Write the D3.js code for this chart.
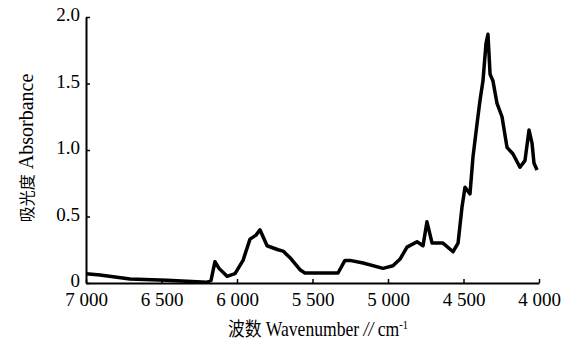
<!DOCTYPE html>
<html>
<head>
<meta charset="utf-8">
<script src="https://cdn.jsdelivr.net/npm/d3@7/dist/d3.min.js"></script>
<style>
  html, body { margin: 0; padding: 0; background: #fff; }
</style>
</head>
<body>
<svg id="chart" width="575" height="342"></svg>
<script>
// Spectrum: wavenumber (cm-1) and absorbance
const wavenumber = [7000, 6907, 6709, 6464, 6199, 6172, 6146, 6119, 6066, 6013, 5960, 5914, 5874, 5848, 5828, 5801, 5728, 5695, 5649, 5583, 5550, 5331, 5285, 5252, 5165, 5033, 4967, 4920, 4874, 4808, 4768, 4742, 4708, 4636, 4569, 4536, 4510, 4490, 4457, 4437, 4410, 4391, 4371, 4351, 4338, 4324, 4305, 4278, 4245, 4212, 4172, 4126, 4093, 4066, 4046, 4033, 4013];
const absorbance = [0.07, 0.06, 0.03, 0.02, 0.005, 0.02, 0.16, 0.11, 0.05, 0.07, 0.17, 0.33, 0.36, 0.40, 0.35, 0.28, 0.25, 0.24, 0.19, 0.10, 0.075, 0.075, 0.17, 0.17, 0.15, 0.11, 0.13, 0.18, 0.27, 0.31, 0.28, 0.46, 0.30, 0.30, 0.235, 0.30, 0.57, 0.72, 0.67, 0.95, 1.2, 1.37, 1.52, 1.8, 1.87, 1.57, 1.52, 1.35, 1.25, 1.02, 0.97, 0.87, 0.92, 1.15, 1.05, 0.9, 0.85];
const xTicks = [7000, 6500, 6000, 5500, 5000, 4500, 4000];
const xTickLabels = ["7 000", "6 500", "6 000", "5 500", "5 000", "4 500", "4 000"];
const yTicks = [0, 0.5, 1.0, 1.5, 2.0];
const yTickLabels = ["0", "0.5", "1.0", "1.5", "2.0"];

const SERIF = '"Liberation Serif", "Times New Roman", "DejaVu Serif", serif';
const CJK = '"Noto Sans CJK SC", "Noto Sans CJK JP", sans-serif';

const svg = d3.select("#chart");
const x = d3.scaleLinear().domain([7000, 4000]).range([86, 539]);
const y = d3.scaleLinear().domain([0, 2]).range([283, 17]);

// x axis
const xAxis = d3.axisBottom(x).tickValues(xTicks)
  .tickFormat((d, i) => xTickLabels[i]).tickSizeInner(-4).tickSizeOuter(0).tickPadding(10);
const gx = svg.append("g").attr("transform", `translate(0,${y(0)})`).call(xAxis);
gx.select(".domain").attr("stroke", "#000").attr("stroke-width", 2);
gx.selectAll(".tick line").attr("stroke", "#000").attr("stroke-width", 1.5);
gx.selectAll(".tick text").attr("font-family", SERIF).style("font-family", SERIF)
  .style("font-size", "19px").attr("fill", "#000");

// y axis
const yAxis = d3.axisLeft(y).tickValues(yTicks)
  .tickFormat((d, i) => yTickLabels[i]).tickSizeInner(-4).tickSizeOuter(0).tickPadding(6);
const gy = svg.append("g").attr("transform", `translate(${x(7000)},0)`).call(yAxis);
gy.select(".domain").attr("stroke", "#000").attr("stroke-width", 2);
gy.selectAll(".tick line").attr("stroke", "#000").attr("stroke-width", 1.5);
gy.selectAll(".tick text").attr("font-family", SERIF).style("font-family", SERIF)
  .style("font-size", "19px").attr("fill", "#000").attr("dy", "0.2em");

// spectrum line
const data = wavenumber.map((w, i) => ({ w, a: absorbance[i] }));
const line = d3.line().x(d => x(d.w)).y(d => y(d.a));
svg.append("path").datum(data)
  .attr("d", line)
  .attr("fill", "none")
  .attr("stroke", "#000")
  .attr("stroke-width", 3.5)
  .attr("stroke-linejoin", "round");

// axis titles
const yt = svg.append("text")
  .attr("transform", `translate(33,148) rotate(-90)`)
  .attr("text-anchor", "middle")
  .style("font-family", SERIF)
  .style("font-size", "20px");
yt.append("tspan").style("font-family", CJK).style("font-size", "16px").text("吸光度");
yt.append("tspan").text(" Absorbance");

const xt = svg.append("text")
  .attr("transform", `translate(318,336) scale(0.88,1)`)
  .attr("text-anchor", "middle")
  .style("font-family", SERIF)
  .style("font-size", "20px");
xt.append("tspan").style("font-family", CJK).style("font-size", "19px").text("波数");
xt.append("tspan").text(" Wavenumber ");
xt.append("tspan").style("font-style", "italic").text("//");
xt.append("tspan").text(" cm");
xt.append("tspan").attr("dy", -7).style("font-size", "12px").text("-1");
</script>
</body>
</html>
